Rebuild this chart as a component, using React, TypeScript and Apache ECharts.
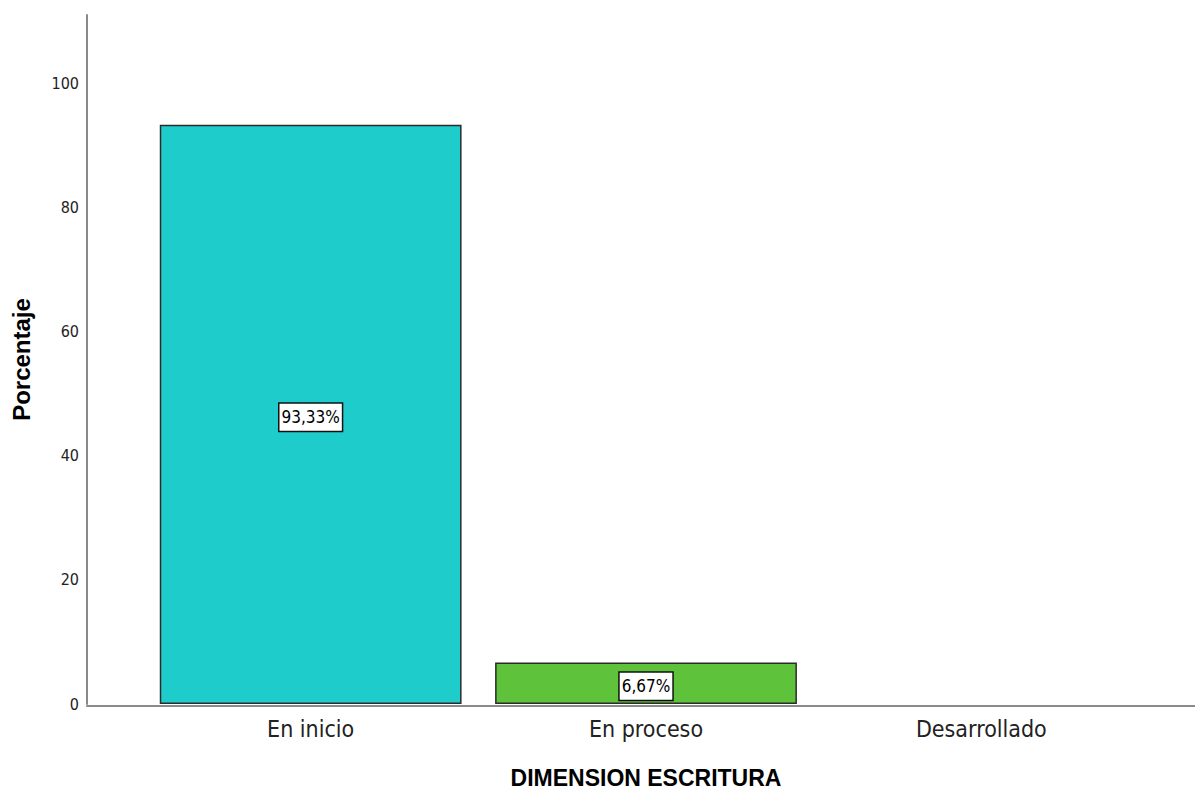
import React, { useEffect, useRef } from "react";
import * as echarts from "echarts";

const categories = ["En inicio", "En proceso", "Desarrollado"];
const percentages = [93.33, 6.67, 0];
const barColors = ["#1ECDCB", "#5EC23A", "#CCCCCC"];
const valueLabels = ["93,33%", "6,67%", ""];
const xTitle = "DIMENSION ESCRITURA";
const yTitle = "Porcentaje";

const NARROW = "'Liberation Sans Narrow', 'Arial Narrow', 'DejaVu Sans Condensed', sans-serif";
const SANS = "'Liberation Sans', Arial, sans-serif";

export default function App() {
  const ref = useRef<HTMLDivElement>(null);
  useEffect(() => {
    if (!ref.current) return;
    const chart = echarts.init(ref.current, null, { renderer: "svg" });
    const axisLineStyle = { color: "#8a8a8a", width: 2 };
    chart.setOption({
      animation: false,
      backgroundColor: "#ffffff",
      grid: [
        { left: 143, right: 46, top: 15, bottom: 88 },
        { left: 87, right: 0, top: 15, bottom: 88 },
      ],
      xAxis: [
        {
          type: "category",
          gridIndex: 0,
          data: categories,
          axisLine: { show: false },
          axisTick: { show: false },
          axisLabel: { fontFamily: NARROW, fontSize: 23, color: "#222", margin: 13 },
          name: xTitle,
          nameLocation: "middle",
          nameGap: 62,
          nameTextStyle: { fontFamily: SANS, fontSize: 23, fontWeight: "bold", color: "#000" },
        },
        {
          type: "value",
          gridIndex: 1,
          min: 0,
          max: 1,
          axisLine: { show: true, lineStyle: axisLineStyle },
          axisTick: { show: false },
          axisLabel: { show: false },
          splitLine: { show: false },
        },
      ],
      yAxis: [
        {
          type: "value",
          gridIndex: 0,
          min: 0,
          max: 111,
          interval: 20,
          offset: 56,
          axisLine: { show: true, lineStyle: axisLineStyle },
          axisTick: { show: false },
          splitLine: { show: false },
          axisLabel: {
            fontFamily: NARROW,
            fontSize: 16,
            color: "#222",
            margin: 8,
            showMaxLabel: false,
          },
          name: yTitle,
          nameLocation: "middle",
          nameGap: 54,
          nameTextStyle: { fontFamily: SANS, fontSize: 24, fontWeight: "bold", color: "#000" },
        },
        {
          type: "value",
          gridIndex: 1,
          min: 0,
          max: 1,
          show: false,
        },
      ],
      series: [
        {
          type: "bar",
          xAxisIndex: 0,
          yAxisIndex: 0,
          barWidth: "90%",
          data: percentages.map((v, i) => ({
            value: v,
            itemStyle: {
              color: barColors[i],
              borderColor: "#2b2b2b",
              borderWidth: v > 0 ? 1.5 : 0,
              opacity: v > 0 ? 1 : 0,
            },
            label: {
              show: v > 0,
              position: "inside",
              formatter: () => valueLabels[i],
              fontFamily: NARROW,
              fontSize: 17,
              color: "#000",
              backgroundColor: "#ffffff",
              borderColor: "#111",
              borderWidth: 1.5,
              padding: [6, 2, 4, 2],
              offset: [0, 3],
            },
          })),
        },
      ],
    });
    return () => chart.dispose();
  }, []);
  return <div ref={ref} style={{ width: 1195, height: 794, position: "absolute", left: 0, top: 0 }} />;
}
